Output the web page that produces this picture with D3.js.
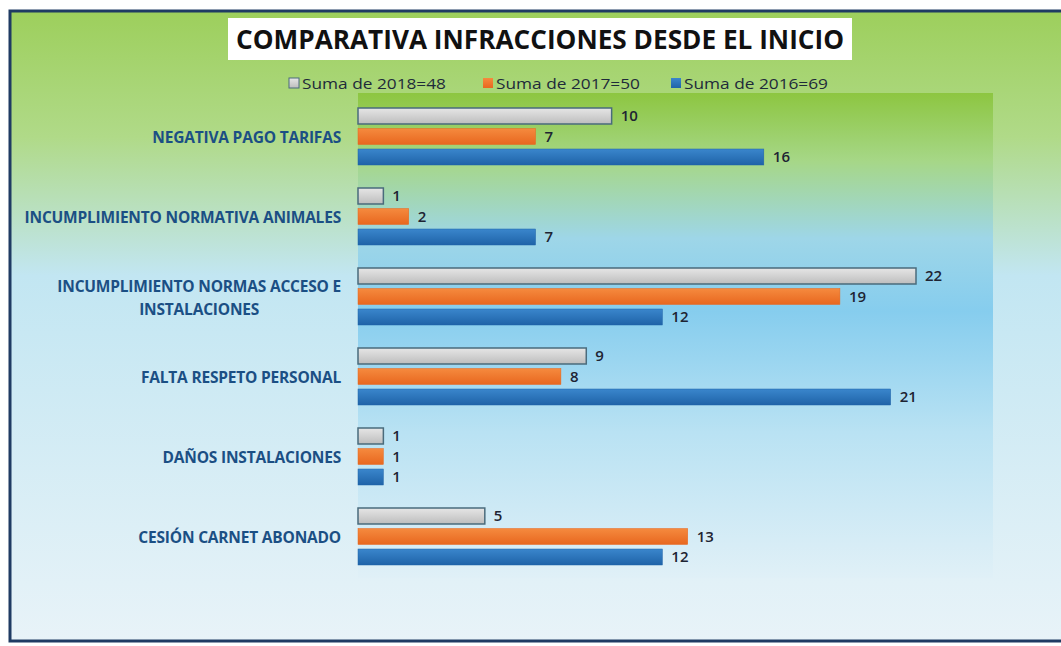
<!DOCTYPE html>
<html>
<head>
<meta charset="utf-8">
<script src="https://cdn.jsdelivr.net/npm/d3@7"></script>
<style>
  body { margin: 0; background: #fff; }
  svg { display: block; }
</style>
</head>
<body>
<script>
// data
let categories = [
    ["NEGATIVA PAGO TARIFAS"],
    ["INCUMPLIMIENTO NORMATIVA ANIMALES"],
    ["INCUMPLIMIENTO NORMAS ACCESO E", "INSTALACIONES"],
    ["FALTA RESPETO PERSONAL"],
    ["DAÑOS INSTALACIONES"],
    ["CESIÓN CARNET ABONADO"]
];
let seriesNames = ["Suma de 2018=48", "Suma de 2017=50", "Suma de 2016=69"];
let values2018 = [10, 1, 22, 9, 1, 5];
let values2017 = [7, 2, 19, 8, 1, 13];
let values2016 = [16, 7, 12, 21, 1, 12];

let w = 1061;
let h = 646;

let svg = d3.select("body")
    .append("svg")
    .attr("width", w)
    .attr("height", h);

let defs = svg.append("defs");

/************** background gradients **************/
let outerGrad = defs.append("linearGradient")
    .attr("id", "outerGrad").attr("x1", 0).attr("y1", 0).attr("x2", 0).attr("y2", 1);
outerGrad.append("stop").attr("offset", "0%").attr("stop-color", "#9dcf5c");
outerGrad.append("stop").attr("offset", "20%").attr("stop-color", "#b0da88");
outerGrad.append("stop").attr("offset", "42%").attr("stop-color", "#c2e6f2");
outerGrad.append("stop").attr("offset", "100%").attr("stop-color", "#e8f3f8");

let plotGrad = defs.append("linearGradient")
    .attr("id", "plotGrad").attr("x1", 0).attr("y1", 0).attr("x2", 0).attr("y2", 1);
plotGrad.append("stop").attr("offset", "0%").attr("stop-color", "#8dc641");
plotGrad.append("stop").attr("offset", "14%").attr("stop-color", "#a6d787");
plotGrad.append("stop").attr("offset", "30%").attr("stop-color", "#9ed6e8");
plotGrad.append("stop").attr("offset", "45%").attr("stop-color", "#86cdee");
plotGrad.append("stop").attr("offset", "70%").attr("stop-color", "#b9e2f3");
plotGrad.append("stop").attr("offset", "100%").attr("stop-color", "#e0f0f7");

// bar fills, a bit of shading like the office chart
let barColors = [
    ["#e6e6e6", "#bdbdbd", "#4a6b7c"],
    ["#f58a3e", "#e8671f", "#e8671f"],
    ["#3a86cc", "#1f63a8", "#1f63a8"]
];
barColors.forEach(function(c, i) {
    let g = defs.append("linearGradient")
        .attr("id", "barGrad" + i).attr("x1", 0).attr("y1", 0).attr("x2", 0).attr("y2", 1);
    g.append("stop").attr("offset", "0%").attr("stop-color", c[0]);
    g.append("stop").attr("offset", "100%").attr("stop-color", c[1]);
});

svg.append("rect")
    .attr("x", 10).attr("y", 11)
    .attr("width", w + 20).attr("height", 630)
    .attr("fill", "url(#outerGrad)")
    .attr("stroke", "#1f3b63")
    .attr("stroke-width", 3);

/************** scales **************/
let plotLeft = 358;
let plotTop = 98;
let plotBottom = 578;
let plotRight = 993;

svg.append("rect")
    .attr("x", plotLeft).attr("y", plotTop - 5)
    .attr("width", plotRight - plotLeft).attr("height", plotBottom - plotTop + 5)
    .attr("fill", "url(#plotGrad)");

let xScale = d3.scaleLinear()
    .domain([0, 22])
    .range([plotLeft, 916]);

let yScale = d3.scaleBand()
    .domain(d3.range(categories.length))
    .range([plotTop, plotBottom]);

let inner = d3.scaleBand()
    .domain([0, 1, 2])
    .range([yScale.bandwidth() / 2 - 30, yScale.bandwidth() / 2 + 27])
    .paddingInner(0.22);

/************** title **************/
svg.append("rect")
    .attr("x", 228).attr("y", 18)
    .attr("width", 624).attr("height", 42)
    .attr("fill", "#fff");

svg.append("text")
    .attr("x", 540).attr("y", 49)
    .attr("text-anchor", "middle")
    .attr("font-family", "'Open Sans', sans-serif")
    .attr("font-weight", "bold")
    .attr("font-size", "26px")
    .attr("textLength", 608)
    .attr("lengthAdjust", "spacingAndGlyphs")
    .attr("fill", "#111")
    .text("COMPARATIVA INFRACCIONES DESDE EL INICIO");

/************** legend **************/
let legendX = [289, 483, 671];
let legend = svg.selectAll(".legend")
    .data(seriesNames)
    .enter()
    .append("g")
    .attr("class", "legend")
    .attr("transform", function(d, i) {
        return "translate(" + legendX[i] + ",84)";
    });

legend.append("rect")
    .attr("x", 0).attr("y", -6)
    .attr("width", 10).attr("height", 10)
    .attr("fill", function(d, i) { return "url(#barGrad" + i + ")"; })
    .attr("stroke", function(d, i) { return i == 0 ? "#4a6b7c" : "none"; });

legend.append("text")
    .attr("x", 13).attr("y", 5)
    .attr("font-family", "'Open Sans', sans-serif")
    .attr("font-size", "15px")
    .attr("textLength", 144)
    .attr("lengthAdjust", "spacingAndGlyphs")
    .attr("fill", "#1e2a3a")
    .text(function(d) { return d; });

/************** bars **************/
let allSeries = [values2018, values2017, values2016];

let groups = svg.selectAll(".group")
    .data(categories)
    .enter()
    .append("g")
    .attr("class", "group")
    .attr("transform", function(d, i) {
        return "translate(0," + yScale(i) + ")";
    });

groups.each(function(cat, ci) {
    let g = d3.select(this);
    let rows = allSeries.map(function(s, si) {
        return { s: si, v: s[ci] };
    });

    g.selectAll("rect")
        .data(rows)
        .enter()
        .append("rect")
        .attr("x", xScale(0))
        .attr("y", function(d) { return inner(d.s); })
        .attr("width", function(d) { return xScale(d.v) - xScale(0); })
        .attr("height", inner.bandwidth())
        .attr("fill", function(d) { return "url(#barGrad" + d.s + ")"; })
        .attr("stroke", function(d) { return barColors[d.s][2]; })
        .attr("stroke-width", function(d) { return d.s == 0 ? 1.5 : 0.5; });

    g.selectAll(".val")
        .data(rows)
        .enter()
        .append("text")
        .attr("class", "val")
        .attr("x", function(d) { return xScale(d.v) + 9; })
        .attr("y", function(d) { return inner(d.s) + inner.bandwidth() / 2 + 5; })
        .attr("font-family", "'Open Sans', sans-serif")
        .attr("font-weight", "600")
        .attr("font-size", "15px")
        .attr("fill", "#1e2433")
        .text(function(d) { return d.v; });
});

/************** category labels **************/
groups.each(function(cat) {
    let g = d3.select(this);
    let cy = yScale.bandwidth() / 2;
    let lineH = 23;
    let y0 = cy - (cat.length - 1) * lineH / 2 + 5;
    let label = g.append("text")
        .attr("font-family", "'Open Sans', sans-serif")
        .attr("font-weight", "bold")
        .attr("font-size", "15.5px")
        .attr("letter-spacing", "-0.2px")
        .attr("fill", "#1b4f84");

    if (cat.length == 1) {
        label.attr("x", 341).attr("y", y0)
            .attr("text-anchor", "end")
            .text(cat[0]);
    } else {
        // wrapped label: lines centred on the first line's width
        let first = label.append("tspan").attr("x", 341).attr("y", y0)
            .attr("text-anchor", "end").text(cat[0]);
        let wd = first.node().getComputedTextLength();
        first.attr("text-anchor", "middle").attr("x", 341 - wd / 2);
        label.append("tspan").attr("x", 341 - wd / 2).attr("y", y0 + lineH)
            .attr("text-anchor", "middle").text(cat[1]);
    }
});
</script>
</body>
</html>
